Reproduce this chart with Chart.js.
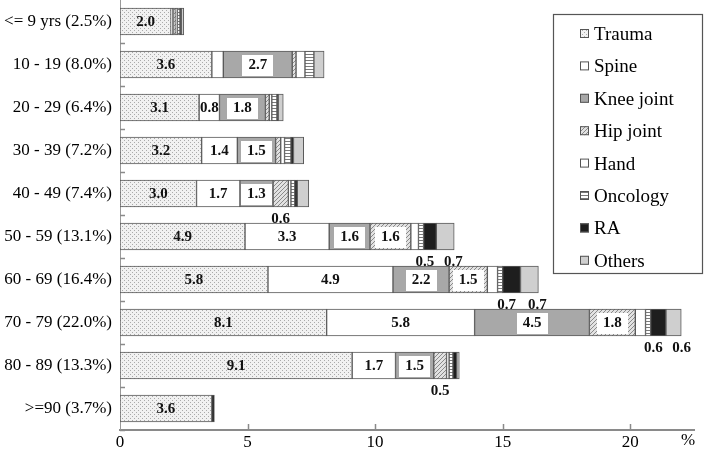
<!DOCTYPE html>
<html><head><meta charset="utf-8">
<script src="https://cdn.jsdelivr.net/npm/chart.js@4/dist/chart.umd.min.js"></script>
<style>html,body{margin:0;padding:0;background:#fff}#wrap{width:708px;height:451px;position:relative}</style>
</head><body><div id="wrap"><canvas id="c" width="708" height="451"></canvas></div>
<script>
// ---- data ----
const categories = ['<= 9 yrs (2.5%)','10 - 19 (8.0%)','20 - 29 (6.4%)','30 - 39 (7.2%)','40 - 49 (7.4%)',
                    '50 - 59 (13.1%)','60 - 69 (16.4%)','70 - 79 (22.0%)','80 - 89 (13.3%)','>=90 (3.7%)'];
const seriesNames = ['Trauma','Spine','Knee joint','Hip joint','Hand','Oncology','RA','Others'];
const trauma   = [2.0, 3.6, 3.1, 3.2, 3.0, 4.9, 5.8, 8.1, 9.1, 3.6];
const spine    = [0.05,0.45,0.8, 1.4, 1.7, 3.3, 4.9, 5.8, 1.7, 0];
const knee     = [0.05,2.7, 1.8, 1.5, 1.3, 1.6, 2.2, 4.5, 1.5, 0];
const hip      = [0.1, 0.15,0.15,0.2, 0.6, 1.6, 1.5, 1.8, 0.5, 0];
const hand     = [0.05,0.35,0.1, 0.15,0.1, 0.3, 0.4, 0.4, 0.1, 0];
const oncology = [0.1, 0.35,0.2, 0.25,0.15,0.2, 0.2, 0.2, 0.15,0];
const ra       = [0.05,0,   0.05,0.1, 0.1, 0.5, 0.7, 0.6, 0.15,0.1];
const others   = [0.1, 0.4, 0.2, 0.4, 0.45,0.7, 0.7, 0.6, 0.1, 0];
const xTicks = [0, 5, 10, 15, 20];
// values printed below bars: [row, series]
const outsideLabels = [[4,3],[5,6],[5,7],[6,6],[6,7],[7,6],[7,7],[8,3]];

// ---- styling ----
const SERIF = '"Liberation Serif","DejaVu Serif",serif';
const outsideShift = { 6: -5, 7: 8 };   // horizontal nudge of below-bar labels, by series
const canvas = document.getElementById('c');
const ctx = canvas.getContext('2d');

function pat(size, draw){
  const c = document.createElement('canvas'); c.width = size; c.height = size;
  const x = c.getContext('2d'); draw(x, size); return ctx.createPattern(c, 'repeat');
}
const fills = [
  pat(4, (x)=>{x.fillStyle='#f1f1f1';x.fillRect(0,0,4,4);x.fillStyle='#aaaaaa';x.fillRect(0,0,1,1);x.fillRect(2,2,1,1);}),
  '#ffffff',
  '#a8a8a8',
  pat(4, (x)=>{x.fillStyle='#e2e2e2';x.fillRect(0,0,4,4);x.fillStyle='#8a8a8a';for(let i=0;i<4;i++){x.fillRect(i,3-i,1,1);}}),
  '#ffffff',
  pat(3, (x)=>{x.fillStyle='#ffffff';x.fillRect(0,0,3,3);x.fillStyle='#7a7a7a';x.fillRect(0,0,3,1);}),
  '#1e1e1e',
  '#cfcfcf'
];
const values = [trauma, spine, knee, hip, hand, oncology, ra, others];

const datasets = seriesNames.map((n,i)=>({
  label: n, data: values[i], backgroundColor: fills[i],
  borderColor: '#5a5a5a', borderWidth: 1, borderSkipped: false,
  barThickness: 27
}));

const labelPlugin = {
  id: 'labels',
  afterDatasetsDraw(chart){
    const c = chart.ctx;
    c.save();
    c.font = 'bold 15px ' + SERIF;
    c.textAlign = 'center'; c.textBaseline = 'middle';
    for (let s = 0; s < 4; s++){
      const meta = chart.getDatasetMeta(s);
      meta.data.forEach((el, i) => {
        const v = values[s][i];
        if (v < 0.8) return;
        const t = v.toFixed(1);
        const cx = (el.x + el.base) / 2, cy = el.y;
        if (s === 2 || s === 3){
          const w = c.measureText(t).width + 12;
          c.fillStyle = '#fff';
          c.fillRect(Math.round(cx - w/2), Math.round(cy - 10), Math.round(w), 21);
        }
        c.fillStyle = '#111';
        c.fillText(t, cx, cy + 1);
      });
    }
    outsideLabels.forEach(([r, s]) => {
      const el = chart.getDatasetMeta(s).data[r];
      const cx = (el.x + el.base) / 2 + (outsideShift[s] || 0);
      c.fillStyle = '#111';
      c.fillText(values[s][r].toFixed(1), cx, el.y + el.height/2 + 12);
    });
    // inward ticks
    const xs = chart.scales.x, ys = chart.scales.y, a = chart.chartArea;
    c.strokeStyle = '#8a8a8a'; c.lineWidth = 1.5;
    xTicks.slice(1).forEach(v => {
      const px = Math.round(xs.getPixelForValue(v)) + 0.5;
      c.beginPath(); c.moveTo(px, a.bottom); c.lineTo(px, a.bottom - 6); c.stroke();
    });
    for (let i = 1; i <= categories.length; i++){
      const py = Math.round(ys.getPixelForValue(i - 0.5)) + 0.5;
      c.beginPath(); c.moveTo(a.left, py); c.lineTo(a.left + 5, py); c.stroke();
    }
    // % unit
    c.font = '17px ' + SERIF; c.fillStyle = '#000';
    c.fillText('%', a.right - 6, a.bottom + 11);
    // legend
    const lx = 553, ly = 14, lw = 149, lh = 259;
    c.fillStyle = '#fff'; c.fillRect(lx, ly, lw, lh);
    c.strokeStyle = '#555'; c.lineWidth = 1.2; c.strokeRect(lx + 0.5, ly + 0.5, lw, lh);
    c.textAlign = 'left'; c.font = '19px ' + SERIF;
    seriesNames.forEach((n, i) => {
      const y = 34 + i * 32.4;
      c.fillStyle = fills[i]; c.fillRect(580, y - 5, 9, 9);
      c.strokeStyle = '#555'; c.lineWidth = 1; c.strokeRect(580.5, y - 4.5, 8, 8);
      c.fillStyle = '#000'; c.fillText(n, 594, y + 1);
    });
    c.restore();
  }
};

new Chart(canvas, {
  type: 'bar',
  data: { labels: categories, datasets },
  options: {
    indexAxis: 'y', responsive: false, animation: false,
    layout: { padding: { left: 0, right: 14, top: 0, bottom: 0 } },
    plugins: { legend: { display: false }, tooltip: { enabled: false } },
    scales: {
      x: {
        stacked: true, min: 0, max: 22.5,
        afterBuildTicks: (s) => { s.ticks = xTicks.map(v => ({ value: v })); },
        afterFit: (s) => { s.height = 21; s.paddingLeft = 0; s.paddingRight = 0; },
        grid: { display: false, drawTicks: false },
        border: { display: true, color: '#8a8a8a', width: 2 },
        ticks: { color: '#000', font: { family: SERIF, size: 17 }, padding: 2, maxRotation: 0 }
      },
      y: {
        stacked: true,
        afterFit: (s) => { s.width = 120; s.paddingTop = 0; s.paddingBottom = 0; },
        grid: { display: false, drawTicks: false },
        border: { display: true, color: '#9a9a9a', width: 1 },
        ticks: { color: '#000', font: { family: SERIF, size: 17 }, padding: 8 }
      }
    }
  },
  plugins: [labelPlugin]
});
</script></body></html>
